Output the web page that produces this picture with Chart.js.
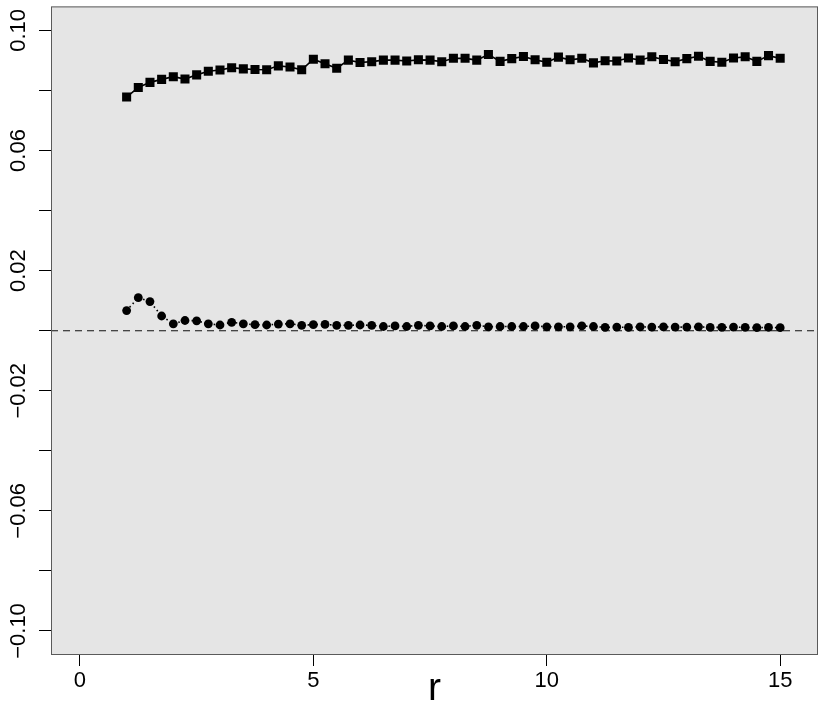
<!DOCTYPE html>
<html>
<head>
<meta charset="utf-8">
<script src="https://cdn.jsdelivr.net/npm/chart.js@4/dist/chart.umd.min.js"></script>
<style>
html,body{margin:0;padding:0;background:#fff;}
#wrap{width:830px;height:706px;}
</style>
</head>
<body>
<div id="wrap"><canvas id="c" width="830" height="706"></canvas></div>
<script>
// x positions (r)
const rValues = [1,1.25,1.5,1.75,2,2.25,2.5,2.75,3,3.25,3.5,3.75,4,4.25,4.5,4.75,5,5.25,5.5,5.75,6,6.25,6.5,6.75,7,7.25,7.5,7.75,8,8.25,8.5,8.75,9,9.25,9.5,9.75,10,10.25,10.5,10.75,11,11.25,11.5,11.75,12,12.25,12.5,12.75,13,13.25,13.5,13.75,14,14.25,14.5,14.75,15];
// square series
const squareSeries = [0.0778,0.0810,0.0827,0.0837,0.0846,0.0838,0.0852,0.0864,0.0868,0.0876,0.0872,0.0870,0.0869,0.0882,0.0878,0.0869,0.0904,0.0889,0.0874,0.0901,0.0893,0.0896,0.0901,0.0901,0.0898,0.0902,0.0901,0.0896,0.0907,
  0.0907,0.0901,0.0920,0.0897,0.0906,0.0913,0.0902,0.0894,0.0911,0.0902,0.0907,0.0892,0.0899,0.0898,0.0908,0.0901,0.0912,0.0903,0.0896,0.0906,0.0914,0.0897,0.0894,0.0908,0.0912,0.0897,0.0916,0.0907];
// circle series
const circleSeries = [0.0067,0.0110,0.0097,0.0049,0.0023,0.0034,0.0033,0.0023,0.0019,0.0028,0.0023,0.0020,0.0019,0.0022,0.0023,0.0018,0.0020,0.0021,0.0018,0.0018,0.0019,0.0018,0.0014,0.0016,0.0014,0.0018,0.0016,0.0014,0.0016,
  0.0014,0.0018,0.0013,0.0014,0.0014,0.0014,0.0016,0.0013,0.0013,0.0013,0.0016,0.0014,0.0011,0.0012,0.0011,0.0013,0.0012,0.0013,0.0012,0.0012,0.0013,0.0011,0.0011,0.0012,0.0011,0.0010,0.0011,0.0010];
// axes
const xTickValues = [0,5,10,15];
const yTickValues = [-0.10,-0.08,-0.06,-0.04,-0.02,0.00,0.02,0.04,0.06,0.08,0.10];
const yTickLabels = ['\u22120.10','','\u22120.06','','\u22120.02','','0.02','','0.06','','0.10'];
const refLineY = 0;
const xTitle = 'r';

const FONT = "'Liberation Sans', Arial, Helvetica, sans-serif";

const plotBg = {
  id: 'plotBg',
  beforeDraw(chart) {
    const {ctx, chartArea: a} = chart;
    ctx.save();
    ctx.fillStyle = '#e5e5e5';
    ctx.fillRect(a.left, a.top, a.right - a.left, a.bottom - a.top);
    ctx.restore();
  },
  beforeDatasetsDraw(chart) {
    const {ctx, chartArea: a, scales} = chart;
    const y = scales.y.getPixelForValue(refLineY);
    ctx.save();
    ctx.strokeStyle = '#111';
    ctx.lineWidth = 1.1;
    ctx.setLineDash([7, 5]);
    ctx.beginPath();
    ctx.moveTo(a.left, y);
    ctx.lineTo(a.right, y);
    ctx.stroke();
    ctx.restore();
  },
  afterDraw(chart) {
    const {ctx, chartArea: a} = chart;
    ctx.save();
    ctx.strokeStyle = '#5a5a5a';
    ctx.lineWidth = 1;
    ctx.strokeRect(a.left + 0.5, a.top + 0.5, a.right - a.left - 1, a.bottom - a.top - 1);
    ctx.restore();
  }
};

new Chart(document.getElementById('c'), {
  type: 'line',
  data: {
    datasets: [
      {
        label: 'squares',
        data: rValues.map((r, i) => ({x: r, y: squareSeries[i]})),
        borderColor: '#000',
        backgroundColor: '#000',
        borderWidth: 1.6,
        pointStyle: 'rect',
        pointRadius: 6.4,
        pointBorderWidth: 0,
        pointHoverRadius: 6.4,
        tension: 0
      },
      {
        label: 'circles',
        data: rValues.map((r, i) => ({x: r, y: circleSeries[i]})),
        borderColor: '#000',
        backgroundColor: '#000',
        borderWidth: 1.6,
        borderDash: [1.5, 3],
        pointStyle: 'circle',
        pointRadius: 4.4,
        pointBorderWidth: 0,
        pointHoverRadius: 4.4,
        tension: 0
      }
    ]
  },
  options: {
    responsive: false,
    animation: false,
    devicePixelRatio: 1,
    events: [],
    layout: {padding: {top: 3, right: 12, left: 0, bottom: 0}},
    plugins: {legend: {display: false}, tooltip: {enabled: false}},
    scales: {
      x: {
        type: 'linear',
        min: -0.62,
        max: 15.81,
        afterBuildTicks: s => { s.ticks = xTickValues.map(v => ({value: v})); },
        afterFit: s => { s.height = 51; },
        border: {display: false},
        grid: {drawOnChartArea: false, drawTicks: true, tickLength: 11, color: '#000', tickColor: '#000', lineWidth: 1},
        ticks: {color: '#000', font: {family: FONT, size: 22}, padding: 2, maxRotation: 0, autoSkip: false, callback: v => String(v)},
        title: {display: true, text: xTitle, color: '#000', font: {family: FONT, size: 39, lineHeight: 0.8}, padding: {top: 0, bottom: 1}}
      },
      y: {
        type: 'linear',
        min: -0.108,
        max: 0.108,
        afterBuildTicks: s => { s.ticks = yTickValues.map(v => ({value: v})); },
        afterFit: s => { s.width = 51; },
        border: {display: false},
        grid: {drawOnChartArea: false, drawTicks: true, tickLength: 12, color: '#000', tickColor: '#000', lineWidth: 1},
        ticks: {
          color: '#000', font: {family: FONT, size: 22}, padding: -8, autoSkip: false,
          minRotation: 90, maxRotation: 90, crossAlign: 'center',
          callback: (v, i) => yTickLabels[i]
        }
      }
    }
  },
  plugins: [plotBg]
});
</script>
</body>
</html>
